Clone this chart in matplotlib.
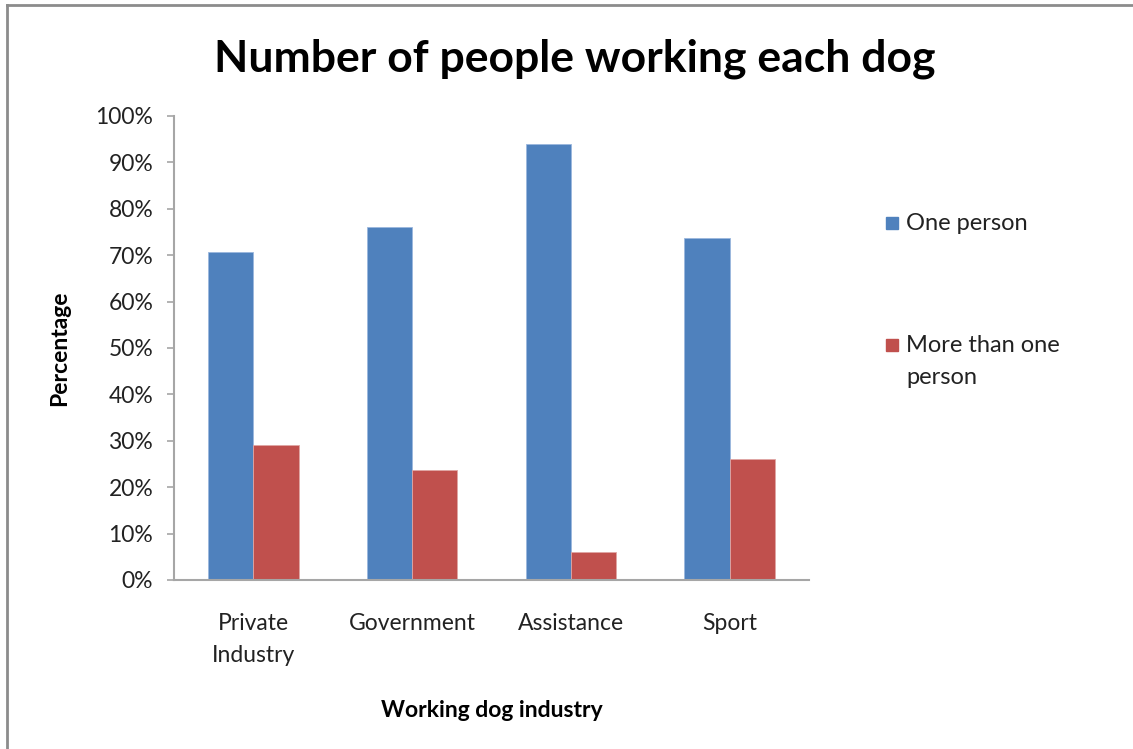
import matplotlib.pyplot as plt
from matplotlib.patches import Rectangle
from matplotlib.lines import Line2D
from matplotlib.ticker import PercentFormatter
import numpy as np

plt.rcParams['font.family'] = ['Lato', 'DejaVu Sans']

industries = ["Private\nIndustry", "Government", "Assistance", "Sport"]
series_names = ["One person", "More than one\nperson"]
one_person = [70.6, 76.1, 94.0, 73.7]
more_than_one = [29.2, 23.6, 6.0, 26.1]
colors = ["#4F81BD", "#C0504D"]

W, H = 1133, 749
fig = plt.figure(figsize=(W / 100, H / 100), dpi=100)
ax = fig.add_axes([174 / W, 1 - 580 / H, 635 / W, 464 / H])

x = np.arange(len(industries))
w = 2 / 7  # gap width 150%
ax.bar(x - w / 2, one_person, w, color=colors[0], edgecolor="#9bb7dd", linewidth=0.6)
ax.bar(x + w / 2, more_than_one, w, color=colors[1], edgecolor="#e0a6a4", linewidth=0.6)

ax.set_xlim(-0.5, len(industries) - 0.5)
ax.set_ylim(0, 100)
ax.set_yticks(np.arange(0, 101, 10))
ax.yaxis.set_major_formatter(PercentFormatter(decimals=0))
ax.set_xticks(x)
ax.set_xticklabels(industries, linespacing=1.65)

for side in ["top", "right"]:
    ax.spines[side].set_visible(False)
for side in ["left", "bottom"]:
    ax.spines[side].set_color("#a6a6a6")
    ax.spines[side].set_linewidth(1.5)

ax.tick_params(axis="y", length=5, width=1.2, color="#a6a6a6", pad=10,
               labelsize=16.5, labelcolor="#222222")
ax.tick_params(axis="x", length=0, pad=24, labelsize=16.5, labelcolor="#222222")

ax.set_ylabel("Percentage", fontsize=16.5, fontweight="bold", labelpad=18)
ax.set_xlabel("Working dog industry", fontsize=16.5, fontweight="bold", labelpad=24)

fig.text(0.507, 1 - 59 / H, "Number of people working each dog", ha="center", va="center",
         fontsize=32, fontweight="bold")

# legend drawn by hand so the marker sits on the first line of a wrapped label
legend_y = [223, 345]
for name, color, yp in zip(series_names, colors, legend_y):
    fy = 1 - yp / H
    fig.patches.append(Rectangle((886 / W, fy - 6 / H), 12 / W, 12 / H,
                                 transform=fig.transFigure, color=color))
    for i, line in enumerate(name.split("\n")):
        fig.text(906 / W, fy - i * 32 / H, line, ha="left", va="center",
                 fontsize=17, color="#222222")

# outer chart frame (left and top edges)
fig.lines.append(Line2D([7 / W, 7 / W], [0, 1 - 5 / H], transform=fig.transFigure,
                        color="#8c8c8c", linewidth=2))
fig.lines.append(Line2D([7 / W, 1], [1 - 5 / H, 1 - 5 / H], transform=fig.transFigure,
                        color="#8c8c8c", linewidth=2))

fig.savefig("out.png", dpi=100)
